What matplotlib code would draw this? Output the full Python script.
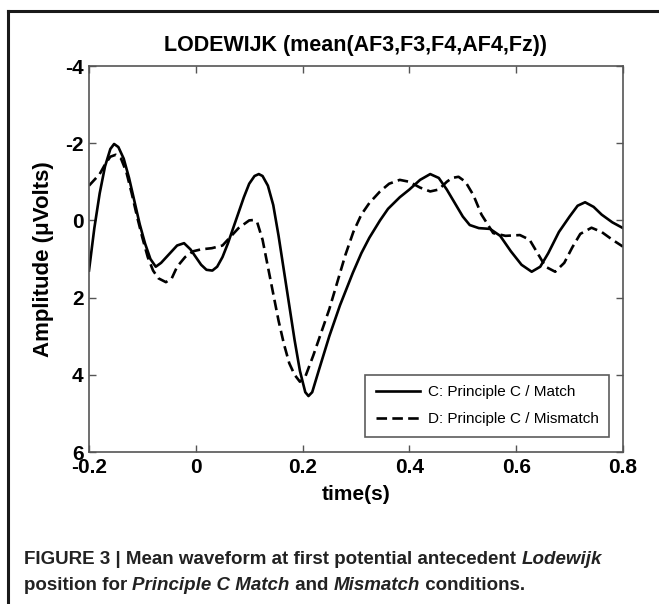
import matplotlib
matplotlib.use("Agg")
import matplotlib.pyplot as plt
from matplotlib.lines import Line2D

# ---- data ----
t_match = [-0.2, -0.19, -0.18, -0.17, -0.16, -0.153, -0.145, -0.135, -0.125, -0.115,
           -0.105, -0.095, -0.085, -0.075, -0.065, -0.055, -0.045, -0.035, -0.022, -0.01,
           0.0, 0.01, 0.02, 0.031, 0.04, 0.05, 0.06, 0.07, 0.08, 0.09,
           0.10, 0.11, 0.118, 0.125, 0.135, 0.145, 0.155, 0.165, 0.175, 0.185,
           0.195, 0.205, 0.211, 0.218, 0.23, 0.25, 0.27, 0.294, 0.31, 0.325,
           0.345, 0.36, 0.382, 0.40, 0.42, 0.439, 0.455, 0.47, 0.485, 0.50,
           0.513, 0.53, 0.551, 0.57, 0.59, 0.61, 0.629, 0.645, 0.66, 0.68,
           0.70, 0.715, 0.729, 0.745, 0.76, 0.78, 0.80]
v_match = [1.3, 0.2, -0.7, -1.4, -1.85, -1.98, -1.9, -1.6, -1.1, -0.5,
           0.1, 0.6, 1.0, 1.2, 1.1, 0.95, 0.8, 0.65, 0.59, 0.75,
           0.95, 1.15, 1.28, 1.3, 1.2, 0.95, 0.6, 0.2, -0.2, -0.6,
           -0.95, -1.15, -1.2, -1.15, -0.9, -0.4, 0.4, 1.3, 2.2, 3.1,
           3.9, 4.45, 4.55, 4.45, 3.9, 3.0, 2.2, 1.36, 0.85, 0.45,
           0.0, -0.3, -0.6, -0.8, -1.05, -1.2, -1.1, -0.8, -0.45, -0.1,
           0.12, 0.2, 0.22, 0.4, 0.8, 1.15, 1.33, 1.2, 0.85, 0.3,
           -0.1, -0.38, -0.47, -0.35, -0.15, 0.05, 0.2]

t_mismatch = [-0.2, -0.19, -0.18, -0.17, -0.16, -0.15, -0.14, -0.13, -0.12, -0.11,
              -0.10, -0.09, -0.08, -0.07, -0.056, -0.045, -0.035, -0.02, -0.005, 0.01,
              0.03, 0.05, 0.06, 0.07, 0.08, 0.09, 0.10, 0.108, 0.115, 0.125,
              0.135, 0.145, 0.155, 0.165, 0.175, 0.185, 0.195, 0.205, 0.22, 0.235,
              0.25, 0.265, 0.28, 0.295, 0.31, 0.325, 0.345, 0.362, 0.382, 0.40,
              0.42, 0.439, 0.455, 0.47, 0.48, 0.492, 0.505, 0.52, 0.535, 0.557,
              0.58, 0.607, 0.625, 0.64, 0.655, 0.673, 0.69, 0.705, 0.72, 0.741,
              0.76, 0.78, 0.80]
v_mismatch = [-0.9, -1.05, -1.2, -1.45, -1.65, -1.7, -1.6, -1.25, -0.7, -0.1,
              0.45, 0.95, 1.3, 1.5, 1.6, 1.5, 1.2, 0.95, 0.8, 0.75,
              0.72, 0.65, 0.5, 0.35, 0.2, 0.1, 0.0, -0.01, 0.05, 0.5,
              1.2, 1.9, 2.6, 3.2, 3.7, 4.0, 4.18, 4.05, 3.5, 2.9,
              2.3, 1.6, 0.9, 0.3, -0.15, -0.45, -0.75, -0.95, -1.05, -1.0,
              -0.85, -0.75, -0.8, -1.0, -1.1, -1.13, -1.0, -0.65, -0.15, 0.33,
              0.4, 0.38, 0.5, 0.85, 1.2, 1.33, 1.1, 0.7, 0.35, 0.19,
              0.3, 0.5, 0.68]

x_ticks = [-0.2, 0, 0.2, 0.4, 0.6, 0.8]
x_ticklabels = ["-0.2", "0", "0.2", "0.4", "0.6", "0.8"]
y_ticks = [-4, -2, 0, 2, 4, 6]
y_ticklabels = ["-4", "-2", "0", "2", "4", "6"]
series_labels = ["C: Principle C / Match", "D: Principle C / Mismatch"]
title = "LODEWIJK (mean(AF3,F3,F4,AF4,Fz))"
xlabel = "time(s)"
ylabel = "Amplitude (\u03bcVolts)"

plt.rcParams['font.family'] = ['Liberation Sans', 'DejaVu Sans']

fig = plt.figure(figsize=(6.59, 6.04), dpi=100)
ax = fig.add_axes([89 / 659, 1 - 452 / 604, 534 / 659, 386 / 604])

ax.plot(t_match, v_match, color='black', lw=1.9, label=series_labels[0],
        solid_joinstyle='round')
ax.plot(t_mismatch, v_mismatch, color='black', lw=1.9, ls=(0, (4, 2)),
        label=series_labels[1])

ax.set_xlim(-0.2, 0.8)
ax.set_ylim(6, -4)
ax.set_xticks(x_ticks)
ax.set_xticklabels(x_ticklabels)
ax.set_yticks(y_ticks)
ax.set_yticklabels(y_ticklabels)
ax.tick_params(direction='in', top=True, right=True, length=5, width=1,
               color='#555555', labelsize=15, pad=4)
for lab in ax.get_xticklabels() + ax.get_yticklabels():
    lab.set_fontweight('bold')
for s in ax.spines.values():
    s.set_color('#555555')
    s.set_linewidth(1.2)

ax.set_title(title, fontsize=15.5, fontweight='bold', y=(452 - 45) / 386,
             va='center', pad=0)
ax.set_xlabel(xlabel, fontsize=15, fontweight='bold', va='center')
ax.xaxis.set_label_coords(0.5, (452 - 495) / 386)
ax.set_ylabel(ylabel, fontsize=16, fontweight='bold', va='center')
ax.yaxis.set_label_coords((44 - 89) / 534, 0.5)

leg = ax.legend(loc='lower right', bbox_to_anchor=(0.974, 0.039),
                fontsize=11, frameon=True, fancybox=False, edgecolor='#333333',
                handlelength=2.9, borderpad=0.7, labelspacing=0.85,
                handletextpad=0.5, borderaxespad=0)
leg.get_frame().set_linewidth(1.2)

# outer border
fig.add_artist(Line2D([8 / 659, 8 / 659], [0, 1 - 11 / 604], transform=fig.transFigure,
                      color='#1a1a1a', lw=2.2))
fig.add_artist(Line2D([8 / 659, 1], [1 - 11 / 604, 1 - 11 / 604], transform=fig.transFigure,
                      color='#1a1a1a', lw=2.2))

# caption with mixed styles
cap_lines = [
    [("FIGURE 3 | Mean waveform at first potential antecedent ", 'normal'),
     ("Lodewijk", 'italic')],
    [("position for ", 'normal'), ("Principle C Match", 'italic'),
     (" and ", 'normal'), ("Mismatch", 'italic'), (" conditions.", 'normal')],
]
cap_y = [1 - 560 / 604, 1 - 585 / 604]
renderer = fig.canvas.get_renderer()
for line, yy in zip(cap_lines, cap_y):
    x = 24 / 659
    for txt, style in line:
        t = fig.text(x, yy, txt, fontsize=13.5, fontweight='bold', style=style,
                     ha='left', va='center', color='#222222')
        bb = t.get_window_extent(renderer=renderer)
        x += bb.width / fig.bbox.width

fig.savefig("out.png", dpi=100)
